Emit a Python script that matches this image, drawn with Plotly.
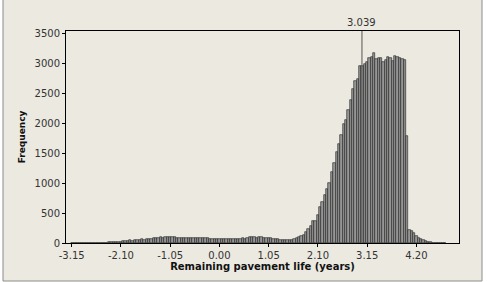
import plotly.graph_objects as go

# Histogram bins (midpoints every 0.05 starting at -3.15)
bin_start = -3.15
bin_width = 0.05
counts = [
    1, 1, 1, 2, 1, 2, 2, 3, 2, 3, 4, 3, 5,            # -3.15 .. -2.55
    6, 8, 7, 10, 9, 12,                              # -2.50 .. -2.25
    15, 18, 22, 26, 30,                              # -2.20 .. -2.00
    36, 42, 40, 50, 55, 52,                          # -1.95 .. -1.70
    62, 58, 70, 66, 72,                              # -1.65 .. -1.45
    88, 92, 90, 94, 89, 93,                          # -1.40 .. -1.15
    97, 102, 98, 96,                                 # -1.10 .. -0.95
    92, 88, 84, 90, 86, 82, 88, 85, 83, 86,          # -0.90 .. -0.45
    80, 82, 78, 80, 72, 75,                          # -0.40 .. -0.15
    65, 62, 68, 60, 64, 62, 66, 60, 64, 66, 68,      # -0.10 .. 0.40
    72, 78, 70, 90, 96, 102, 94, 88, 98, 100, 92, 86,  # 0.45 .. 1.00
    80, 76, 74, 70, 62,                              # 1.05 .. 1.25
    52, 48, 46, 47, 48, 52,                          # 1.30 .. 1.55
    60, 85, 105, 110, 130, 178, 240, 290,            # 1.60 .. 1.95
    362, 365, 470, 598, 690, 800, 905, 1008, 1190, 1345,   # 2.00 .. 2.45
    1515, 1660, 1800, 1981, 2053, 2231, 2387, 2570, 2715, 2745,  # 2.50 .. 2.95
    2960, 2960, 2999, 3026, 3085, 3110, 3182, 3075, 3090, 3095,  # 3.00 .. 3.45
    3020, 3065, 3105, 3100, 3035, 3130, 3115, 3090, 3075, 3062,  # 3.50 .. 3.95
    1780, 225, 195, 160, 125, 92, 72, 50, 33, 20,    # 4.00 .. 4.45
    12, 7, 4, 3, 2, 1, 1,                            # 4.50 .. 4.80
]
mids = [round(bin_start + i * bin_width, 4) for i in range(len(counts))]

x_ticks = [-3.15, -2.10, -1.05, 0.00, 1.05, 2.10, 3.15, 4.20]
x_tick_labels = ["-3.15", "-2.10", "-1.05", "0.00", "1.05", "2.10", "3.15", "4.20"]
y_ticks = [0, 500, 1000, 1500, 2000, 2500, 3000, 3500]
ref_value = 3.039
ref_label = "3.039"

font_fam = "DejaVu Sans"
txt_col = "#333333"

fig = go.Figure()
fig.add_trace(go.Bar(
    x=mids, y=counts, width=bin_width,
    marker=dict(color="#969696", line=dict(color="#1e1e1e", width=0.6)),
    showlegend=False, hoverinfo="x+y",
))

W, H = 487, 282
L, R, T, B = 66, 28, 31, 39
pw, ph = W - L - R, H - T - B

def px_x(p):
    return (p - L) / pw

def px_y(p):
    return (H - B - p) / ph

shapes = [
    # outer beige panel with gray border
    dict(type="rect", xref="paper", yref="paper",
         x0=px_x(3), x1=px_x(482), y0=px_y(281), y1=px_y(-2),
         fillcolor="#ece9e0", line=dict(color="#8c8c8c", width=1), layer="below"),
    # reference line
    dict(type="line", xref="x", yref="paper", x0=ref_value, x1=ref_value,
         y0=0, y1=1, line=dict(color="#555555", width=1), layer="above"),
]

fig.update_layout(
    width=W, height=H,
    margin=dict(l=L, r=R, t=T, b=B, pad=0),
    paper_bgcolor="white",
    plot_bgcolor="white",
    bargap=0,
    font=dict(family=font_fam, size=10, color=txt_col),
    shapes=shapes,
    annotations=[
        dict(text=ref_label, x=ref_value, xref="x", y=1, yref="paper",
             yanchor="bottom", xanchor="center", yshift=1, showarrow=False,
             font=dict(family=font_fam, size=10, color=txt_col)),
    ],
    xaxis=dict(
        range=[-3.271, 5.108],
        tickmode="array", tickvals=x_ticks, ticktext=x_tick_labels,
        ticks="outside", ticklen=3, tickcolor="#000000", tickwidth=1,
        showline=True, linecolor="#000000", linewidth=1, mirror=True,
        showgrid=False, zeroline=False,
        tickfont=dict(family=font_fam, size=10, color=txt_col),
        title=dict(text="<b>Remaining pavement life (years)</b>", standoff=2,
                   font=dict(family=font_fam, size=10, color="#111111")),
    ),
    yaxis=dict(
        range=[0, 3543],
        tickmode="array", tickvals=y_ticks,
        ticks="outside", ticklen=3, tickcolor="#000000", tickwidth=1,
        showline=True, linecolor="#000000", linewidth=1, mirror=True,
        showgrid=False, zeroline=False,
        tickfont=dict(family=font_fam, size=10, color=txt_col),
        title=dict(text="<b>Frequency</b>", standoff=7,
                   font=dict(family=font_fam, size=9, color="#111111")),
    ),
)

fig.write_html("out.html")
